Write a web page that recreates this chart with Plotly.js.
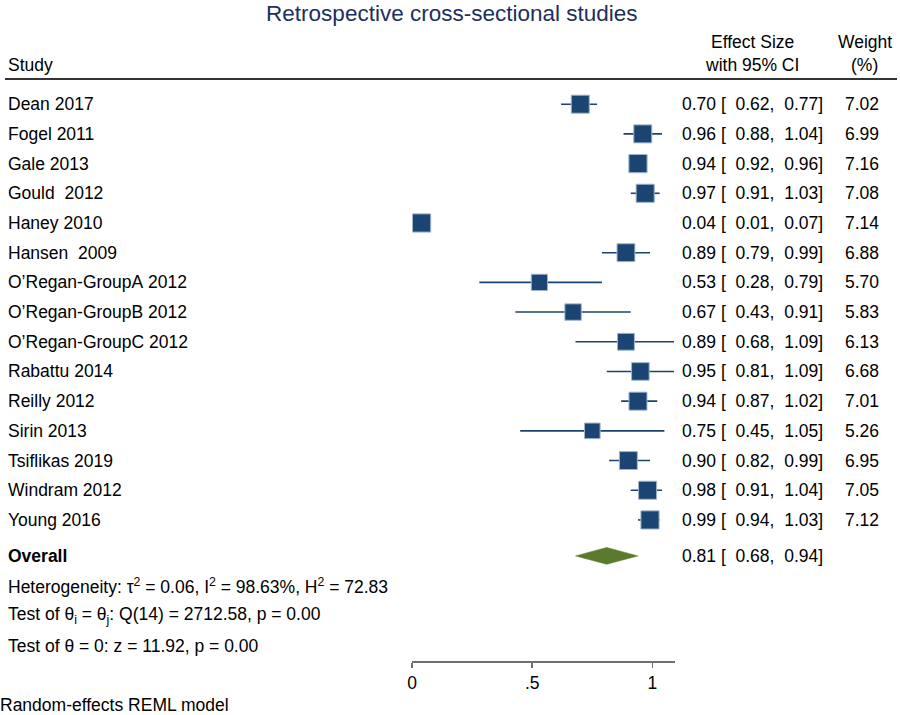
<!DOCTYPE html>
<html><head><meta charset="utf-8">
<script src="https://cdn.plot.ly/plotly-3.0.1.min.js"></script>
<style>html,body{margin:0;padding:0;background:#fff}</style>
</head><body><div id="chart" style="width:900px;height:715px"></div>
<script>
// ---- data ----
const studies = ["Dean 2017","Fogel 2011","Gale 2013","Gould  2012","Haney 2010","Hansen  2009","O\u2019Regan-GroupA 2012","O\u2019Regan-GroupB 2012","O\u2019Regan-GroupC 2012","Rabattu 2014","Reilly 2012","Sirin 2013","Tsiflikas 2019","Windram 2012","Young 2016"];
const effect = [0.70,0.96,0.94,0.97,0.04,0.89,0.53,0.67,0.89,0.95,0.94,0.75,0.90,0.98,0.99];
const ciLow  = [0.62,0.88,0.92,0.91,0.01,0.79,0.28,0.43,0.68,0.81,0.87,0.45,0.82,0.91,0.94];
const ciHigh = [0.77,1.04,0.96,1.03,0.07,0.99,0.79,0.91,1.09,1.09,1.02,1.05,0.99,1.04,1.03];
const weight = [7.02,6.99,7.16,7.08,7.14,6.88,5.70,5.83,6.13,6.68,7.01,5.26,6.95,7.05,7.12];
const overallLabel = "Overall";
const overallEst = 0.81, overallLow = 0.68, overallHigh = 0.94;
const statLines = [
  "Heterogeneity: \u03c4<sup>2</sup> = 0.06, I<sup>2</sup> = 98.63%, H<sup>2</sup> = 72.83",
  "Test of \u03b8<sub>i</sub> = \u03b8<sub>j</sub>: Q(14) = 2712.58, p = 0.00",
  "Test of \u03b8 = 0: z = 11.92, p = 0.00"
];
const tickVals = [0, 0.5, 1];
const tickText = ["0", ".5", "1"];
const titleText = "Retrospective cross-sectional studies";
const headerStudy = "Study";
const headerEffect = ["Effect Size", "with 95% CI"];
const headerWeight = ["Weight", "(%)"];
const modelNote = "Random-effects REML model";

// ---- layout helpers ----
const FONT = "Liberation Sans, Arial, Helvetica, sans-serif";
const FS = 17.5;
const L = 412, R = 225, T = 79, B = 54, W = 900, H = 715;
const plotW = W - L - R, plotH = H - T - B;
const px = p => (p - L) / plotW;              // pixel x -> paper x
const py = p => (H - B - p) / plotH;          // pixel y -> paper y
const nb = s => s.replace(/ /g, "\u00A0");
const f2 = v => v.toFixed(2);
const rows = studies.map((_, i) => i);
const overallRow = 15.21;
const statRows = [16.22, 17.23, 18.24];
const navy = "#1a4472";

// CI lines
const ciX = [], ciY = [];
rows.forEach(i => { ciX.push(ciLow[i], ciHigh[i], null); ciY.push(i, i, null); });

const traces = [
  {x: ciX, y: ciY, mode: "lines", line: {color: navy, width: 1.6}, hoverinfo: "skip", showlegend: false},
  {x: effect, y: rows, mode: "markers", cliponaxis: false,
   marker: {symbol: "square", color: navy, opacity: 1, size: weight.map(w => 6.8 * Math.sqrt(w)),
            line: {color: "#9fb4cc", width: 1}}, showlegend: false},
  {x: [overallLow, overallEst, overallHigh, overallEst, overallLow],
   y: [overallRow, overallRow - 0.285, overallRow, overallRow + 0.285, overallRow],
   mode: "lines", fill: "toself", fillcolor: "#5a7a2e", line: {color: "#5a7a2e", width: 0.5},
   cliponaxis: false, showlegend: false, hoverinfo: "skip"}
];

const ann = [];
const txt = (x, y, text, xanchor, yref) => ann.push({
  xref: "paper", yref: yref || "y", x: x, y: y, text: text, showarrow: false,
  xanchor: xanchor, yanchor: "middle", font: {family: FONT, size: FS, color: "#000"}
});

studies.forEach((s, i) => {
  txt(px(6), i, nb(s), "left");
  txt(px(825), i, nb(`${f2(effect[i])} [  ${f2(ciLow[i])},  ${f2(ciHigh[i])}]`), "right");
  txt(px(881), i, f2(weight[i]), "right");
});
txt(px(6), overallRow, `<b>${overallLabel}</b>`, "left");
txt(px(825), overallRow, nb(`${f2(overallEst)} [  ${f2(overallLow)},  ${f2(overallHigh)}]`), "right");
statLines.forEach((s, k) => txt(px(6), statRows[k], s, "left"));
// headers
txt(px(6), py(65), headerStudy, "left", "paper");
txt(px(752), py(42), headerEffect[0], "center", "paper");
txt(px(752), py(65), headerEffect[1], "center", "paper");
txt(px(865), py(42), headerWeight[0], "center", "paper");
txt(px(864), py(65), headerWeight[1], "center", "paper");
// model note
txt(px(-2), py(705), modelNote, "left", "paper");

const layout = {
  width: W, height: H,
  margin: {l: L, r: R, t: T, b: B, pad: 0},
  paper_bgcolor: "#fff", plot_bgcolor: "#fff",
  font: {family: FONT, size: FS, color: "#000"},
  title: {text: titleText, font: {family: FONT, size: 22.5, color: "#1e2f5c"},
          xref: "container", x: 0.502, xanchor: "center", yref: "container", y: 1 - 13 / H, yanchor: "middle"},
  xaxis: {range: [0, plotW / 240.4], tickvals: tickVals, ticktext: tickText,
          showgrid: false, zeroline: false, showline: true, linecolor: "#707070", linewidth: 1.5,
          ticks: "outside", ticklen: 5, tickwidth: 1.5, tickcolor: "#707070",
          tickfont: {family: FONT, size: FS, color: "#000"}, fixedrange: true},
  yaxis: {range: [18.75, (T - 104.2) / 29.7], visible: false, fixedrange: true},
  shapes: [{type: "line", xref: "paper", yref: "paper", x0: px(5), x1: px(897), y0: 1, y1: 1,
            line: {color: "#333", width: 2}}],
  annotations: ann,
  showlegend: false
};

Plotly.newPlot("chart", traces, layout, {displayModeBar: false, staticPlot: true});
</script>
</body></html>
